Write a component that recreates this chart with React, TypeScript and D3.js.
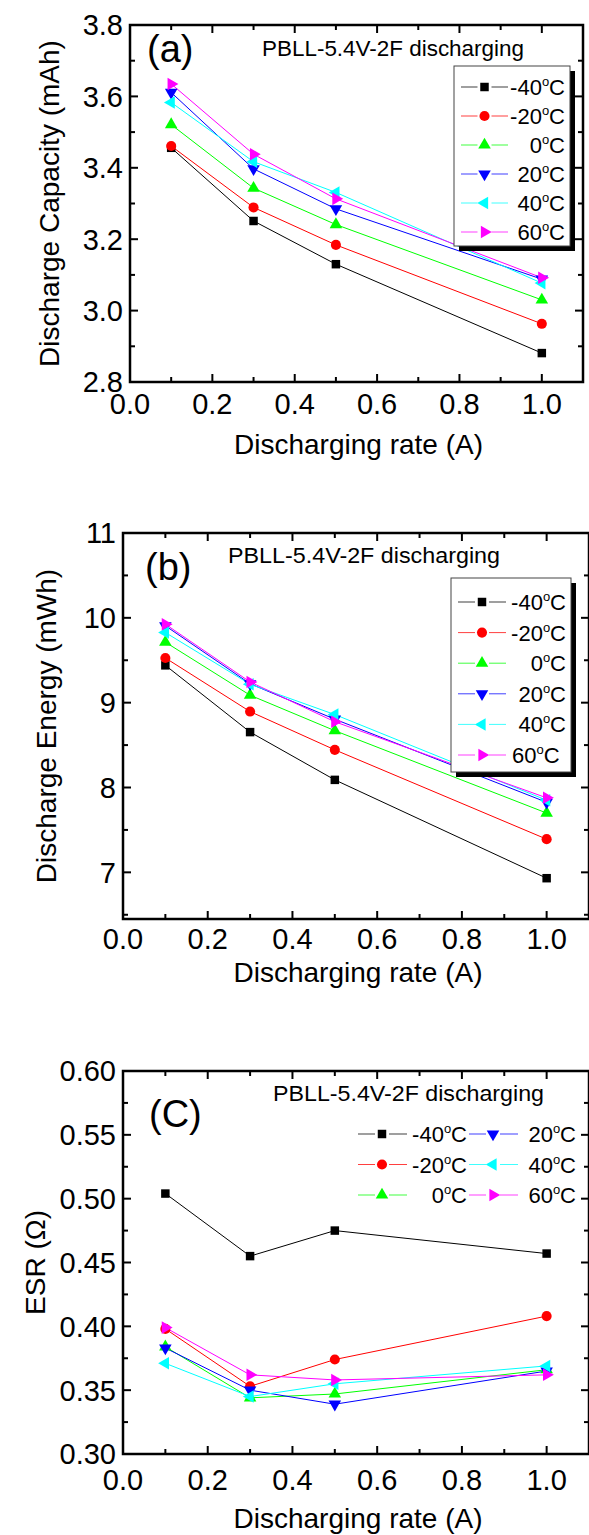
import React from "react";
import * as d3 from "d3";

// ---------- data ----------
const rates = [0.1, 0.3, 0.5, 1.0];
const tempLabels = ["-40", "-20", "0", "20", "40", "60"];
const seriesColors = ["#000000", "#ff0000", "#00ff00", "#0000ff", "#00ffff", "#ff00ff"];
const seriesMarkers = ["square", "circle", "up", "down", "left", "right"];

// (a) Discharge capacity (mAh)
const capM40 = [3.456, 3.251, 3.130, 2.881];
const capM20 = [3.461, 3.289, 3.184, 2.963];
const cap0 = [3.521, 3.343, 3.241, 3.030];
const cap20 = [3.611, 3.397, 3.285, 3.088];
const cap40 = [3.583, 3.417, 3.331, 3.077];
const cap60 = [3.635, 3.438, 3.313, 3.092];

// (b) Discharge energy (mWh)
const enM40 = [9.44, 8.653, 8.09, 6.931];
const enM20 = [9.527, 8.895, 8.444, 7.391];
const en0 = [9.713, 9.088, 8.67, 7.699];
const en20 = [9.906, 9.223, 8.805, 7.826];
const en40 = [9.827, 9.217, 8.86, 7.85];
const en60 = [9.925, 9.244, 8.775, 7.878];

// (c) ESR (ohm)
const esrM40 = [0.504, 0.455, 0.475, 0.457];
const esrM20 = [0.398, 0.353, 0.374, 0.408];
const esr0 = [0.384, 0.344, 0.347, 0.366];
const esr20 = [0.383, 0.350, 0.339, 0.365];
const esr40 = [0.371, 0.345, 0.355, 0.369];
const esr60 = [0.399, 0.362, 0.358, 0.362];

const xTicks = [0, 0.2, 0.4, 0.6, 0.8, 1.0];
const capTicks = [2.8, 3.0, 3.2, 3.4, 3.6, 3.8];
const energyTicks = [7, 8, 9, 10, 11];
const esrTicks = [0.3, 0.35, 0.4, 0.45, 0.5, 0.55, 0.6];

const headerText = "PBLL-5.4V-2F discharging";
const xTitle = "Discharging rate (A)";

const FONT = "'Liberation Sans', Arial, Helvetica, sans-serif";

function markerPath(kind: string) {
  if (kind === "square") return d3.symbol(d3.symbolSquare, 72)() as string;
  if (kind === "circle") return d3.symbol(d3.symbolCircle, 80)() as string;
  return d3.symbol(d3.symbolTriangle, 68)() as string;
}
function markerRot(kind: string) {
  if (kind === "down") return 180;
  if (kind === "left") return -90;
  if (kind === "right") return 90;
  return 0;
}

function Marker({ x, y, kind, color }: any) {
  return (
    <path
      d={markerPath(kind)}
      transform={`translate(${x},${y}) rotate(${markerRot(kind)})`}
      fill={color}
      stroke="none"
    />
  );
}

function TempLabel({ x, y, t, anchor }: any) {
  return (
    <text x={x} y={y} fontSize={22} textAnchor={anchor} fontFamily={FONT} fill="#000">
      <tspan>{t}</tspan>
      <tspan dy={-9} fontSize={13}>o</tspan>
      <tspan dy={9}>C</tspan>
    </text>
  );
}

function Panel(props: any) {
  const {
    left, right, top, bottom, yDomain, yTicks, yMinorStep, yFmt, series,
    yTitle, yTitleX, label, labelX, labelY, headX, headY, headW,
    tickLabelDy, xTitleY, legend,
  } = props;
  const x = d3.scaleLinear().domain([0, 1.1]).range([left, right]);
  const y = d3.scaleLinear().domain(yDomain).range([bottom, top]);
  const line = d3.line<number>().x((_, i) => x(rates[i])).y((d) => y(d));

  const xMinor = d3.range(0.1, 1.05, 0.2);
  const yMinor = yTicks.slice(0, -1).map((t: number) => t + yMinorStep);
  const extraYMinor = yTicks[0] - yMinorStep > yDomain[0] + 1e-9 ? [yTicks[0] - yMinorStep] : [];
  const allYMinor = [...extraYMinor, ...yMinor];
  const MAJ = 8;
  const MIN = 5;

  return (
    <g>
      {/* data lines */}
      {series.map((s: number[], k: number) => (
        <path key={"l" + k} d={line(s) as string} fill="none" stroke={seriesColors[k]} strokeWidth={1} />
      ))}
      {series.map((s: number[], k: number) =>
        s.map((v, i) => (
          <Marker key={"m" + k + "-" + i} x={x(rates[i])} y={y(v)} kind={seriesMarkers[k]} color={seriesColors[k]} />
        ))
      )}

      {/* legend */}
      {legend.box && (
        <g>
          <rect x={legend.box[0] + 5} y={legend.box[1] + 5} width={legend.box[2] - legend.box[0]} height={legend.box[3] - legend.box[1]} fill="#000" />
          <rect x={legend.box[0]} y={legend.box[1]} width={legend.box[2] - legend.box[0]} height={legend.box[3] - legend.box[1]} fill="#fff" stroke="#444" strokeWidth={1} />
        </g>
      )}
      {tempLabels.map((t, k) => {
        const e = legend.entries[k];
        return (
          <g key={"lg" + k}>
            <line x1={e.x1} x2={e.m - 7} y1={e.y} y2={e.y} stroke={seriesColors[k]} strokeWidth={1} opacity={0.75} />
            <line x1={e.m + 7} x2={e.x2} y1={e.y} y2={e.y} stroke={seriesColors[k]} strokeWidth={1} opacity={0.75} />
            <Marker x={e.m} y={e.y} kind={seriesMarkers[k]} color={seriesColors[k]} />
            <TempLabel x={e.tx} y={e.y + 8} t={t} anchor={e.anchor} />
          </g>
        );
      })}

      {/* ticks */}
      {xTicks.map((t) => (
        <g key={"xt" + t}>
          <line x1={x(t)} x2={x(t)} y1={bottom} y2={bottom - MAJ} stroke="#000" strokeWidth={2} />
          <line x1={x(t)} x2={x(t)} y1={top} y2={top + MAJ} stroke="#000" strokeWidth={2} />
          <text x={x(t)} y={bottom + tickLabelDy} fontSize={29} textAnchor="middle" fontFamily={FONT}>
            {d3.format(".1f")(t)}
          </text>
        </g>
      ))}
      {xMinor.map((t) => (
        <g key={"xm" + t}>
          <line x1={x(t)} x2={x(t)} y1={bottom} y2={bottom - MIN} stroke="#000" strokeWidth={2} />
          <line x1={x(t)} x2={x(t)} y1={top} y2={top + MIN} stroke="#000" strokeWidth={2} />
        </g>
      ))}
      {yTicks.map((t: number) => (
        <g key={"yt" + t}>
          <line x1={left} x2={left + MAJ} y1={y(t)} y2={y(t)} stroke="#000" strokeWidth={2} />
          <line x1={right} x2={right - MAJ} y1={y(t)} y2={y(t)} stroke="#000" strokeWidth={2} />
          <text x={left - 7} y={y(t)} dy="0.36em" fontSize={29} textAnchor="end" fontFamily={FONT}>
            {d3.format(yFmt)(t)}
          </text>
        </g>
      ))}
      {allYMinor.map((t: number) => (
        <g key={"ym" + t}>
          <line x1={left} x2={left + MIN} y1={y(t)} y2={y(t)} stroke="#000" strokeWidth={2} />
          <line x1={right} x2={right - MIN} y1={y(t)} y2={y(t)} stroke="#000" strokeWidth={2} />
        </g>
      ))}

      {/* frame */}
      <rect x={left} y={top} width={right - left} height={bottom - top} fill="none" stroke="#000" strokeWidth={2.5} />

      {/* texts */}
      <text x={labelX} y={labelY} fontSize={38} fontFamily={FONT}>{label}</text>
      <text x={headX} y={headY} fontSize={22} fontFamily={FONT} textLength={headW} lengthAdjust="spacingAndGlyphs">{headerText}</text>
      <text x={(left + right) / 2 + 2} y={xTitleY} fontSize={28} textAnchor="middle" fontFamily={FONT}>{xTitle}</text>
      <text
        transform={`translate(${yTitleX},${(top + bottom) / 2}) rotate(-90)`}
        fontSize={28}
        textAnchor="middle"
        fontFamily={FONT}
      >
        {yTitle}
      </text>
    </g>
  );
}

function boxedLegend(y0: number, dy: number, x1: number, m: number, x2: number, tx: number, txLast: number | null) {
  return tempLabels.map((_, k) => ({
    y: y0 + dy * k,
    x1, m, x2,
    tx: txLast !== null && k === tempLabels.length - 1 ? txLast : tx,
    anchor: txLast !== null && k === tempLabels.length - 1 ? "start" : "end",
  }));
}

export default function App() {
  const legendA = { box: [454, 66, 570, 246], entries: boxedLegend(87, 29, 461, 484.5, 508, 565, null) };
  const legendB = { box: [451, 578, 571, 772], entries: boxedLegend(602, 30.6, 458, 482, 506, 566, 512) };
  const legendC = {
    box: null,
    entries: tempLabels.map((_, k) => {
      const col = k < 3 ? 0 : 1;
      const row = k % 3;
      return col === 0
        ? { y: 1134 + row * 30.5, x1: 358, m: 382, x2: 407, tx: 467, anchor: "end" }
        : { y: 1134 + row * 30.5, x1: 469, m: 493, x2: 518, tx: 576, anchor: "end" };
    }),
  };

  return (
    <svg
      width={589}
      height={1535}
      viewBox="0 0 589 1535"
      style={{ position: "absolute", left: 0, top: 0, background: "#fff" }}
    >
      <rect x={0} y={0} width={589} height={1535} fill="#fff" />
      <Panel
        left={130} right={583} top={25} bottom={382}
        yDomain={[2.8, 3.8]} yTicks={capTicks} yMinorStep={0.1} yFmt=".1f"
        series={[capM40, capM20, cap0, cap20, cap40, cap60]}
        yTitle="Discharge Capacity (mAh)" yTitleX={59}
        label="(a)" labelX={147} labelY={62}
        headX={262} headY={56} headW={262}
        tickLabelDy={32} xTitleY={454}
        legend={legendA}
      />
      <Panel
        left={123} right={589} top={533} bottom={919}
        yDomain={[6.45, 11]} yTicks={energyTicks} yMinorStep={0.5} yFmt="d"
        series={[enM40, enM20, en0, en20, en40, en60]}
        yTitle="Discharge Energy (mWh)" yTitleX={56}
        label="(b)" labelX={145} labelY={580}
        headX={228} headY={563} headW={272}
        tickLabelDy={30} xTitleY={982}
        legend={legendB}
      />
      <Panel
        left={123} right={589} top={1071} bottom={1454}
        yDomain={[0.3, 0.6]} yTicks={esrTicks} yMinorStep={0.025} yFmt=".2f"
        series={[esrM40, esrM20, esr0, esr20, esr40, esr60]}
        yTitle="ESR (Ω)" yTitleX={45}
        label="(C)" labelX={149} labelY={1127}
        headX={273} headY={1101} headW={271}
        tickLabelDy={36} xTitleY={1528}
        legend={legendC}
      />
    </svg>
  );
}
